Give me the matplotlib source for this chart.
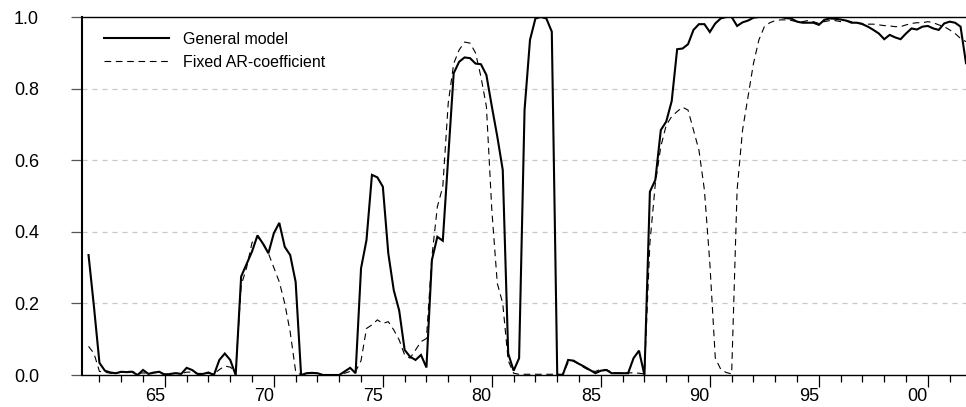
import numpy as np
import pandas as pd
import matplotlib
matplotlib.use("Agg")
import matplotlib.pyplot as plt
from matplotlib.ticker import FixedLocator

plt.rcParams['font.family'] = ['Liberation Sans', 'DejaVu Sans']

# Quarterly dates 1961Q3 .. 2001Q4
quarters = pd.period_range('1961Q3', '2001Q4', freq='Q')
years = quarters.year + (quarters.quarter - 1) / 4.0

general_model = [
    0.335, 0.19, 0.034, 0.012, 0.007, 0.005, 0.009, 0.008, 0.009, 0.0,
    0.014, 0.003, 0.007, 0.009, 0.0, 0.003, 0.005, 0.003, 0.02, 0.014,
    0.003, 0.003, 0.007, 0.0, 0.042, 0.06, 0.042, 0.0, 0.275, 0.31,
    0.345, 0.39, 0.367, 0.34, 0.396, 0.425, 0.358, 0.335, 0.26, 0.0,
    0.005, 0.006, 0.005, 0.0, 0.0, 0.0, 0.0, 0.01, 0.02, 0.005,
    0.298, 0.377, 0.559, 0.552, 0.526, 0.34, 0.237, 0.18, 0.07, 0.051,
    0.042, 0.056, 0.021, 0.321, 0.386, 0.375, 0.61, 0.843, 0.875, 0.887,
    0.885, 0.87, 0.868, 0.838, 0.75, 0.666, 0.573, 0.06, 0.012, 0.047,
    0.74, 0.936, 0.996, 1.0, 0.996, 0.959, 0.0, 0.0, 0.042, 0.04,
    0.031, 0.023, 0.014, 0.005, 0.012, 0.014, 0.005, 0.005, 0.005, 0.005,
    0.047, 0.068, 0.0, 0.512, 0.545, 0.684, 0.708, 0.765, 0.91, 0.912,
    0.924, 0.964, 0.98, 0.98, 0.958, 0.982, 0.996, 1.0, 1.0, 0.975,
    0.985, 0.99, 0.998, 1.0, 1.0, 1.0, 1.0, 1.0, 0.997, 0.995,
    0.987, 0.984, 0.984, 0.984, 0.978, 0.992, 0.996, 0.995, 0.993, 0.99,
    0.984, 0.984, 0.98, 0.973, 0.964, 0.954, 0.938, 0.95, 0.943, 0.938,
    0.954, 0.968, 0.965, 0.973, 0.975, 0.968, 0.964, 0.982, 0.987, 0.984,
    0.973, 0.871,
]

fixed_ar = [
    0.08, 0.06, 0.01, 0.008, 0.005, 0.005, 0.008, 0.01, 0.01, 0.004,
    0.006, 0.004, 0.006, 0.008, 0.003, 0.004, 0.005, 0.004, 0.008, 0.008,
    0.004, 0.004, 0.005, 0.003, 0.015, 0.025, 0.022, 0.01, 0.25, 0.3,
    0.37, 0.385, 0.37, 0.34, 0.3, 0.26, 0.2, 0.12, 0.01, 0.0,
    0.003, 0.005, 0.004, 0.001, 0.0, 0.0, 0.001, 0.005, 0.01, 0.01,
    0.04, 0.13, 0.14, 0.154, 0.144, 0.149, 0.126, 0.098, 0.056, 0.047,
    0.07, 0.093, 0.102, 0.33, 0.47, 0.526, 0.76, 0.87, 0.908, 0.93,
    0.927, 0.9, 0.833, 0.75, 0.46, 0.256, 0.2, 0.04, 0.005, 0.002,
    0.002, 0.002, 0.002, 0.002, 0.002, 0.002, 0.002, 0.002, 0.035, 0.038,
    0.03, 0.02, 0.012, 0.01, 0.016, 0.015, 0.008, 0.006, 0.006, 0.006,
    0.006, 0.005, 0.003, 0.368, 0.535, 0.638, 0.698, 0.722, 0.736, 0.748,
    0.74, 0.684, 0.628, 0.517, 0.312, 0.047, 0.016, 0.007, 0.003, 0.517,
    0.684, 0.777, 0.87, 0.936, 0.973, 0.984, 0.99, 0.992, 0.992, 0.99,
    0.987, 0.987, 0.99, 0.987, 0.982, 0.987, 0.99, 0.99, 0.987, 0.99,
    0.987, 0.984, 0.982, 0.98, 0.98, 0.978, 0.976, 0.975, 0.973, 0.973,
    0.978, 0.982, 0.984, 0.984, 0.987, 0.984, 0.978, 0.973, 0.964, 0.954,
    0.94, 0.931,
]

major_years = [1965, 1970, 1975, 1980, 1985, 1990, 1995, 2000]
major_labels = ['65', '70', '75', '80', '85', '90', '95', '00']
minor_years = list(range(1962, 2002))
y_ticks = [0.0, 0.2, 0.4, 0.6, 0.8, 1.0]
y_labels = ['0.0', '0.2', '0.4', '0.6', '0.8', '1.0']
series_labels = ['General model', 'Fixed AR-coefficient']

W, H = 966, 407
fig = plt.figure(figsize=(W / 100, H / 100), dpi=100)
ax = fig.add_axes([82 / W, 1 - 375 / H, 1 - 82 / W, (375 - 17) / H])

# grid
for yv in y_ticks[1:-1]:
    ax.axhline(yv, color='#c8c8c8', lw=0.9, linestyle=(0, (4, 4)), zorder=0)

ax.plot(years, general_model, color='black', lw=1.5, label=series_labels[0],
        solid_joinstyle='miter', zorder=3)
ax.plot(years, fixed_ar, color='black', lw=0.8, linestyle=(0, (6, 4.2)),
        label=series_labels[1], zorder=2)

ax.set_xlim(1961.2, 2001.75)
ax.set_ylim(0, 1.0)

ax.spines['right'].set_visible(False)
ax.spines['left'].set_linewidth(1.5)
ax.spines['top'].set_linewidth(1.0)
ax.spines['bottom'].set_linewidth(1.0)

ax.xaxis.set_major_locator(FixedLocator(major_years))
ax.xaxis.set_minor_locator(FixedLocator(minor_years))
ax.set_xticklabels(major_labels)
for lab in ax.get_xticklabels():
    lab.set_horizontalalignment('right')
ax.tick_params(axis='x', which='major', direction='out', length=8.6, width=0.9,
               labelsize=13, pad=1.0, color='black')
ax.tick_params(axis='x', which='minor', direction='out', length=5.0, width=0.9,
               color='black')

ax.set_yticks(y_ticks)
ax.set_yticklabels(y_labels)
ax.tick_params(axis='y', which='major', direction='out', length=8.0, width=0.9,
               labelsize=13, pad=23, color='#555555')

leg = ax.legend(loc='upper left', bbox_to_anchor=(104 / W, 1 - 32 / H),
                bbox_transform=fig.transFigure, frameon=False, fontsize=11.5,
                handlelength=4.1, handletextpad=0.85, labelspacing=0.5,
                borderpad=0.0, borderaxespad=0.0)

fig.savefig('out.png', dpi=100)
